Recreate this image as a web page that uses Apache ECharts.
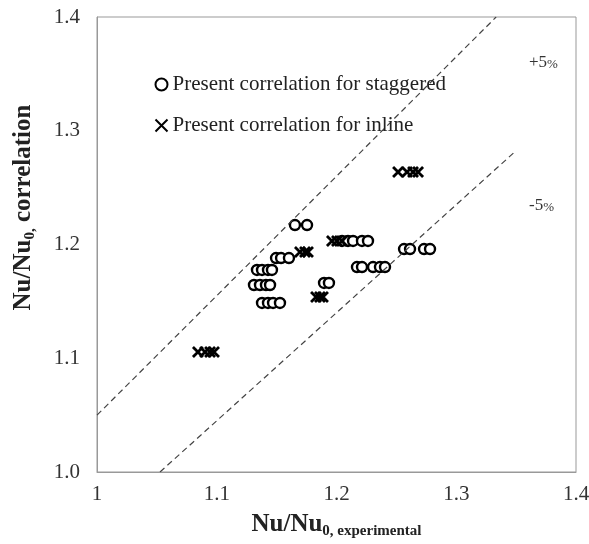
<!DOCTYPE html>
<html>
<head>
<meta charset="utf-8">
<script src="https://cdn.jsdelivr.net/npm/echarts@6/dist/echarts.min.js"></script>
<style>
  html, body { margin: 0; padding: 0; background: #fff; }
  #main { width: 589px; height: 544px; }
</style>
</head>
<body>
<div id="main"></div>
<script>
// values: [experimental, correlation]
var staggered = [
  [1.1653, 1.2171], [1.1754, 1.2171],
  [1.2046, 1.2031], [1.2096, 1.2031], [1.2138, 1.2031], [1.2213, 1.2031], [1.2263, 1.2031],
  [1.1495, 1.1881], [1.1537, 1.1881], [1.1603, 1.1881],
  [1.1336, 1.1776], [1.1378, 1.1776], [1.1428, 1.1776], [1.1461, 1.1776],
  [1.1311, 1.1644], [1.1361, 1.1644], [1.1411, 1.1644], [1.1445, 1.1644],
  [1.1378, 1.1486], [1.1428, 1.1486], [1.1470, 1.1486], [1.1528, 1.1486],
  [1.1896, 1.1662], [1.1937, 1.1662],
  [1.2171, 1.1802], [1.2213, 1.1802], [1.2305, 1.1802], [1.2363, 1.1802], [1.2405, 1.1802],
  [1.2564, 1.1960], [1.2614, 1.1960], [1.2731, 1.1960], [1.2781, 1.1960]
];
var inline = [
  [1.1695, 1.1934], [1.1737, 1.1934], [1.1762, 1.1934],
  [1.1829, 1.1538], [1.1862, 1.1538], [1.1887, 1.1538],
  [1.1962, 1.2031], [1.2004, 1.2031], [1.2046, 1.2031],
  [1.2514, 1.2637], [1.2589, 1.2637], [1.2639, 1.2637], [1.2681, 1.2637],
  [1.0843, 1.1055], [1.0902, 1.1055], [1.0944, 1.1055], [1.0977, 1.1055]
];
var plusLine = [[1, 1.05], [1.3333, 1.4]];
var minusLine = [[1.0526, 1.0], [1.35, 1.2825]];
var xTickLabels = ['1', '1.1', '1.2', '1.3', '1.4'];
var yTickLabels = ['1.0', '1.1', '1.2', '1.3', '1.4'];
var seriesNames = ['Present correlation for staggered', 'Present correlation for inline'];

var serif = 'Liberation Serif';
var chart = echarts.init(document.getElementById('main'));

function tickIndex(v) { return Math.round((v - 1) * 10); }

var titleRich = {
  a: { fontFamily: serif, fontSize: 25, fontWeight: 'bold', color: '#222' },
  b: { fontFamily: serif, fontSize: 15, fontWeight: 'bold', color: '#222', verticalAlign: 'top', padding: [14, 0, 0, 0] }
};
var pctRich = {
  n: { fontFamily: serif, fontSize: 17, fill: '#333' },
  p: { fontFamily: serif, fontSize: 13, fill: '#333', verticalAlign: 'bottom' }
};

chart.setOption({
  animation: false,
  grid: {
    left: 97, right: 13, top: 17, bottom: 72,
    outerBoundsMode: 'none',
    containLabel: false,
    show: true, borderColor: '#999', borderWidth: 1
  },
  legend: {
    orient: 'vertical',
    left: 148, top: 69,
    itemGap: 20,
    itemWidth: 12, itemHeight: 12,
    data: seriesNames,
    textStyle: { fontFamily: serif, fontSize: 21, color: '#222' }
  },
  xAxis: {
    type: 'value', min: 1, max: 1.4, interval: 0.1,
    axisLine: { lineStyle: { color: '#999' } },
    axisTick: { show: false },
    splitLine: { show: false },
    axisLabel: {
      margin: 12, fontFamily: serif, fontSize: 21, color: '#333',
      formatter: function (v) { return xTickLabels[tickIndex(v)]; }
    },
    name: '{a|Nu/Nu}{b|0, experimental}',
    nameLocation: 'middle', nameGap: 38,
    nameTextStyle: { rich: titleRich }
  },
  yAxis: {
    type: 'value', min: 1, max: 1.4, interval: 0.1,
    axisLine: { show: true, lineStyle: { color: '#999' } },
    axisTick: { show: false },
    splitLine: { show: false },
    axisLabel: {
      margin: 17, fontFamily: serif, fontSize: 21, color: '#333',
      formatter: function (v) { return yTickLabels[tickIndex(v)]; }
    },
    name: '{a|Nu/Nu}{b|0,}{a| correlation}',
    nameLocation: 'middle', nameGap: 59,
    nameTextStyle: { rich: titleRich, padding: [0, 0, 0, 74] }
  },
  graphic: [
    { type: 'text', left: 529, top: 54, style: { text: '{n|+5}{p|%}', rich: pctRich } },
    { type: 'text', left: 529, top: 197, style: { text: '{n|-5}{p|%}', rich: pctRich } }
  ],
  series: [
    {
      name: '+5%', type: 'line', data: plusLine, symbol: 'none', silent: true,
      lineStyle: { color: '#444', width: 1.2, type: [6, 4] }
    },
    {
      name: '-5%', type: 'line', data: minusLine, symbol: 'none', silent: true,
      lineStyle: { color: '#444', width: 1.2, type: [6, 4] }
    },
    {
      name: seriesNames[0], type: 'scatter', data: staggered,
      symbol: 'circle', symbolSize: 10,
      itemStyle: { color: '#fff', borderColor: '#000', borderWidth: 2.4, opacity: 1 }
    },
    {
      name: seriesNames[1], type: 'scatter', data: inline,
      symbol: 'path://M0,0L10,10M10,0L0,10', symbolSize: 10,
      itemStyle: { color: 'none', borderColor: '#000', borderWidth: 2.8, opacity: 1 }
    }
  ]
});
</script>
</body>
</html>
